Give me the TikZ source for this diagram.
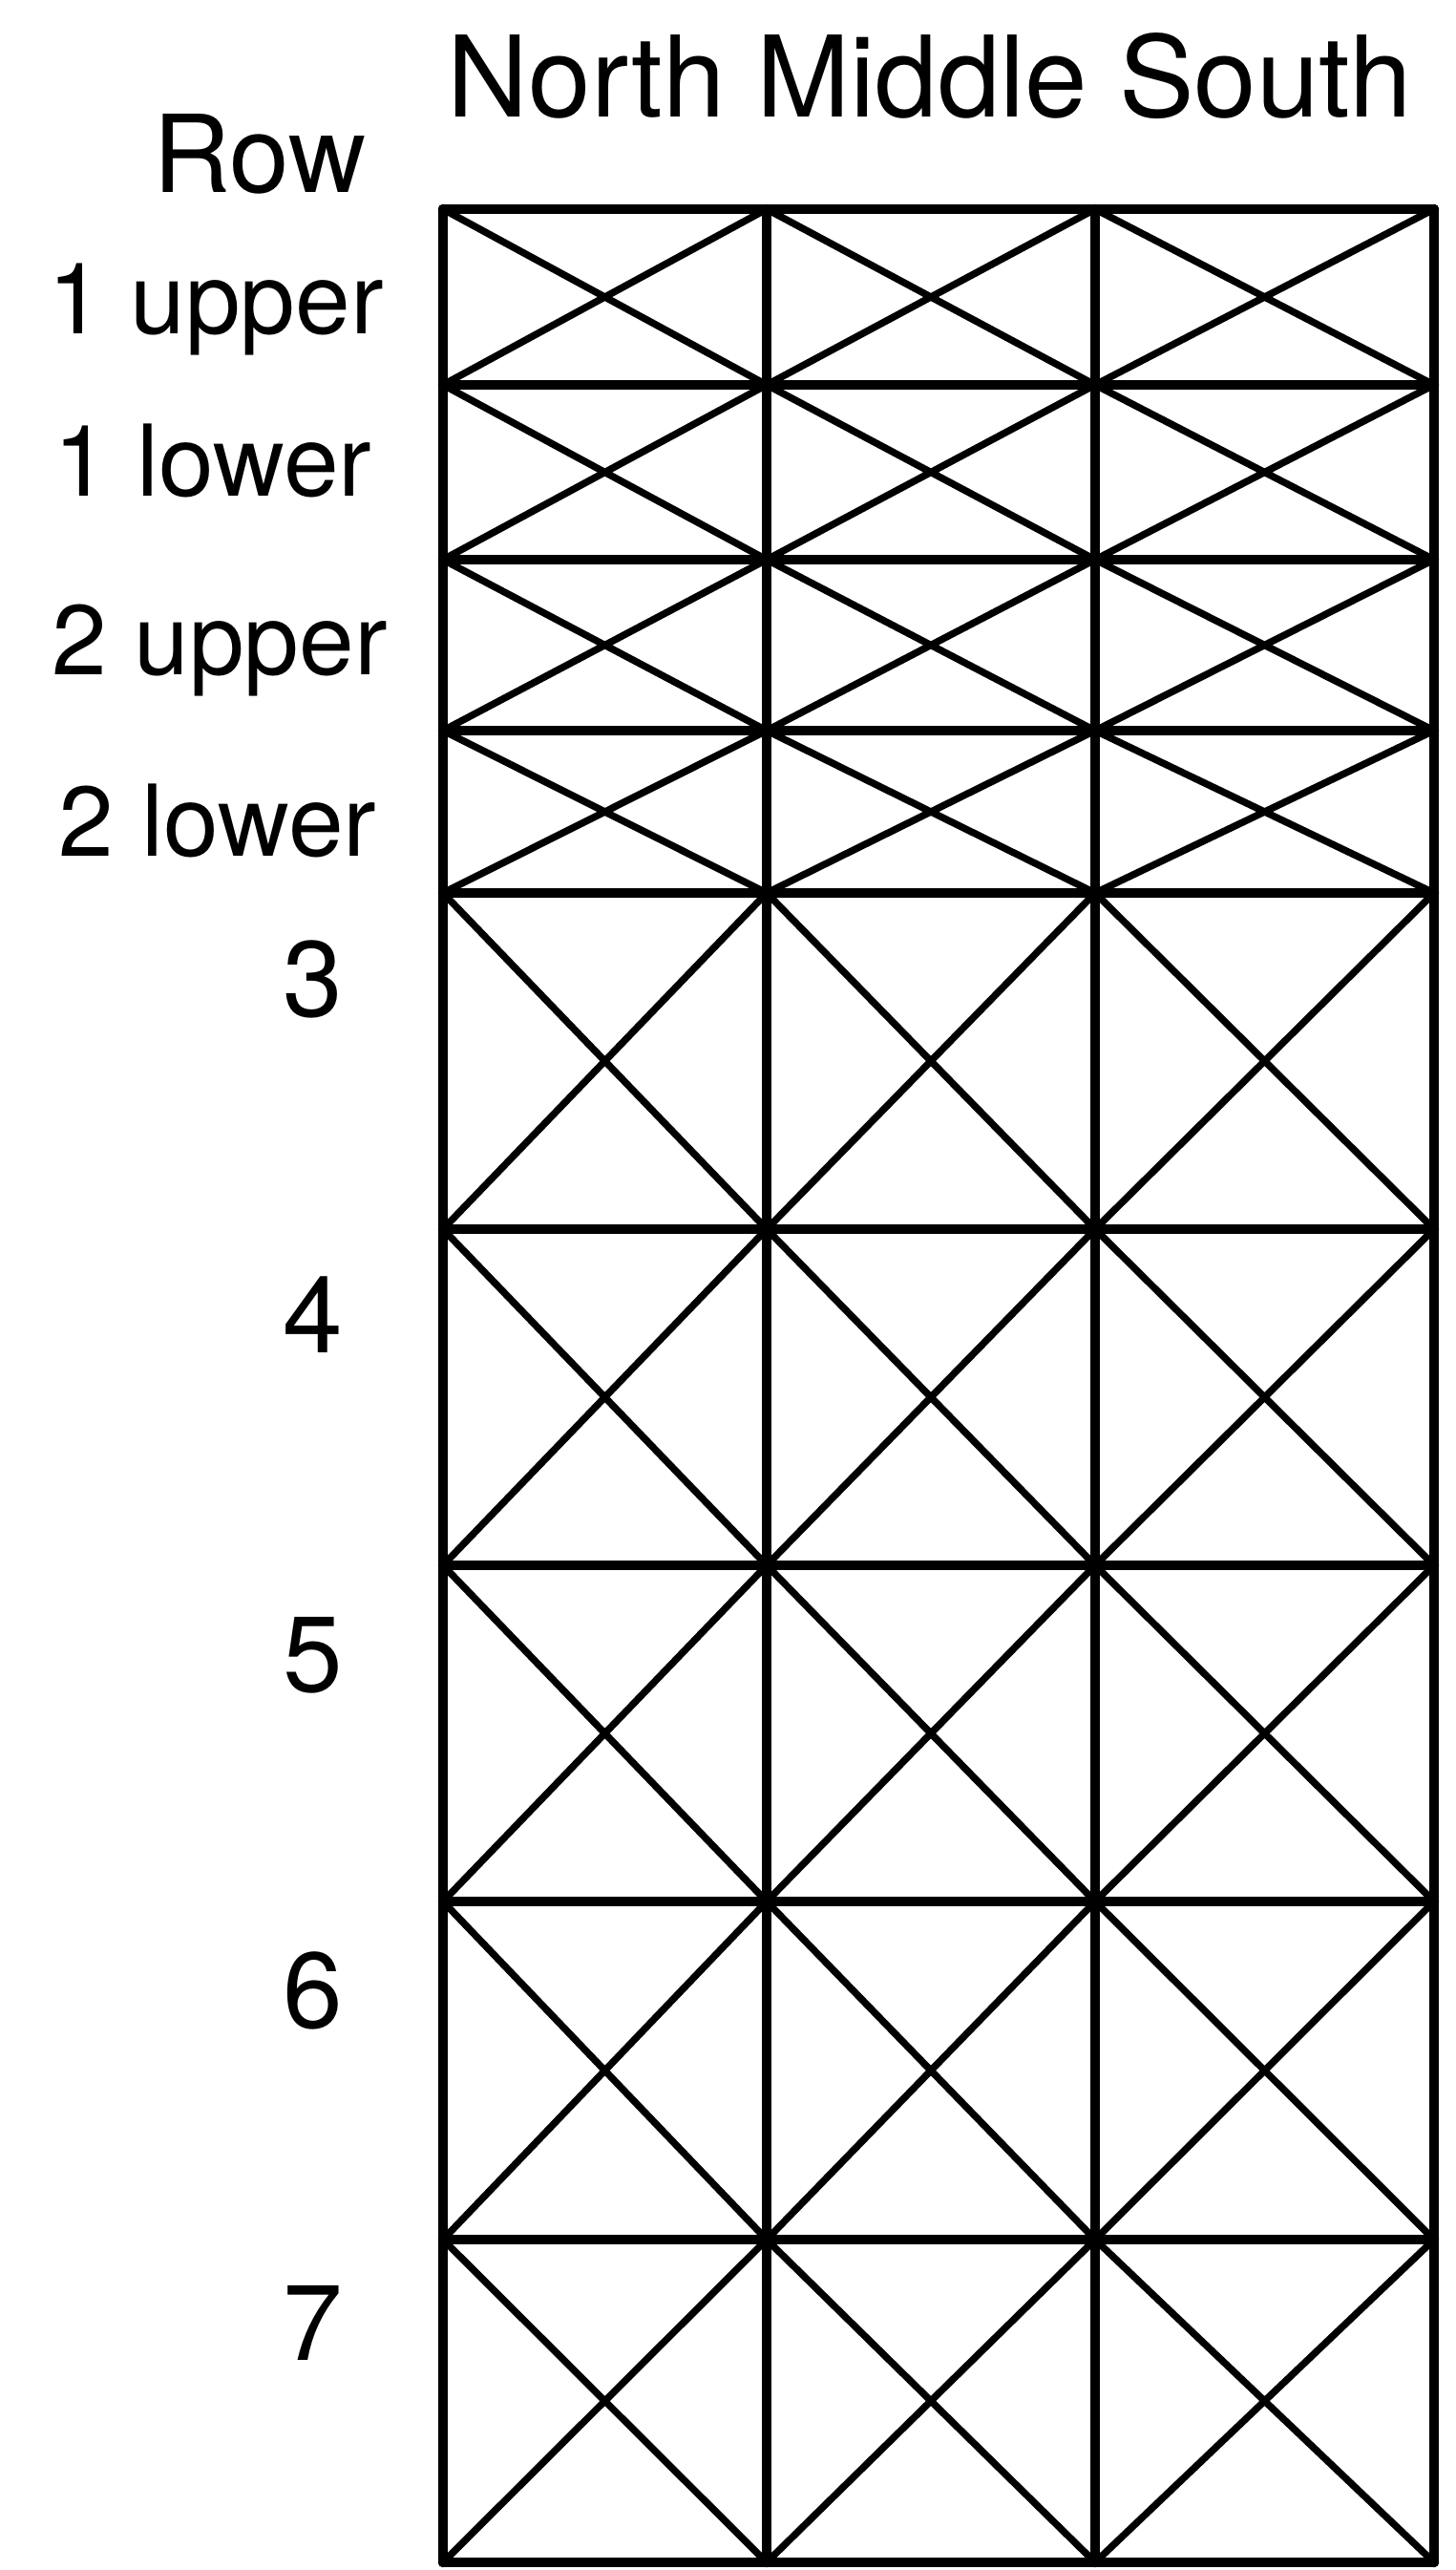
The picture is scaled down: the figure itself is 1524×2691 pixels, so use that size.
\documentclass[tikz,border=0pt]{standalone}
\usepackage{fontspec}
\setmainfont{TeX Gyre Heros}
\usepackage{tikz}
\usetikzlibrary{positioning}

\begin{document}
\begin{tikzpicture}[
  x=0.01cm, y=-0.01cm,
  gridline/.style={line width=3pt, line cap=round},
  crossline/.style={line width=2.1pt, line cap=round},
  every node/.style={inner sep=0pt, font=\fontsize{32}{32}\selectfont},
  rowlabel/.style={font=\fontsize{29.5}{30}\selectfont}
]
\useasboundingbox (0,0) rectangle (1524,2691);
\foreach \t/\b in {219/403,403/586,586/765,765/935,935/1287,1287/1639,1639/1991,1991/2345,2345/2683}
  \foreach \l/\r in {464/803,803/1147,1147/1502}
    \draw[crossline] (\l,\t) -- (\r,\b) (\r,\t) -- (\l,\b);
\foreach \y in {219,403,586,765,935,1287,1639,1991,2345,2683}
  \draw[gridline] (464,\y) -- (1502,\y);
\foreach \x in {464,803,1147,1502}
  \draw[gridline] (\x,219) -- (\x,2683);
\node[anchor=base, font=\fontsize{33.5}{34}\selectfont] (head) at (974,123) {North Middle South};
\node[anchor=base] (rowhead) at (272,202) {Row};
\node[anchor=base, rowlabel] (oneup) at (226,349) {1 upper};
\node[anchor=base, rowlabel] (onelow) at (223,519) {1 lower};
\node[anchor=base, rowlabel] (twoup) at (230,706) {2 upper};
\node[anchor=base, rowlabel] (twolow) at (228,896) {2 lower};
\node[anchor=base] (three) at (328,1064) {3};
\node[anchor=base] (four) at (328,1416) {4};
\node[anchor=base] (five) at (328,1771) {5};
\node[anchor=base] (six) at (328,2123) {6};
\node[anchor=base] (seven) at (328,2471) {7};
\end{tikzpicture}
\end{document}
